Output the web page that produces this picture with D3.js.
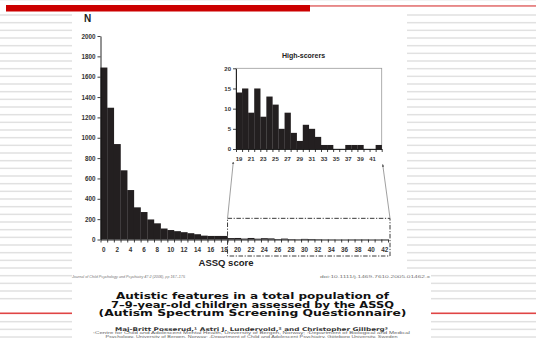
<!DOCTYPE html>
<html><head><meta charset="utf-8">
<script src="https://cdn.jsdelivr.net/npm/d3@7/dist/d3.min.js"></script>
<style>body{margin:0;background:#fff}svg{display:block}</style>
</head><body><svg id="c" width="536" height="338"></svg>
<script>
// ---- data ----
const lowScores  = [0,1,2,3,4,5,6,7,8,9,10,11,12,13,14,15,16,17,18];
const lowCounts  = [1690,1295,938,680,486,316,270,197,159,108,93,82,72,62,52,38,35,35,35];
const highScores = [19,20,21,22,23,24,25,26,27,28,29,30,31,32,33,34,35,36,37,38,39,40,41,42];
const highCounts = [14,15,9,15,8,13,11,5,9,4,2,6,5,3,1,1,0,0,1,1,1,0,0,1];
const mainYTicks = [0,200,400,600,800,1000,1200,1400,1600,1800,2000];
const mainXTicks = [0,2,4,6,8,10,12,14,16,18,20,22,24,26,28,30,32,34,36,38,40,42];
const insetYTicks = [0,5,10,15,20];
const insetXTicks = [19,21,23,25,27,29,31,33,35,37,39,41];
const titleLines = ["Autistic features in a total population of",
                    "7–9-year-old children assessed by the ASSQ",
                    "(Autism Spectrum Screening Questionnaire)"];

const allScores = lowScores.concat(highScores);
const allCounts = lowCounts.concat(highCounts);

const svg = d3.select("#c");
const W = 536, H = 338;

// ---- slide background ----
const stripes = d3.range(-2, 43).filter(k => k !== -1 && k !== 38 && k !== 39);
svg.selectAll("rect.stripe").data(stripes).join("rect")
  .attr("x", 0).attr("width", W)
  .attr("y", k => 15 + k * 7.667 - 0.75).attr("height", 1.5)
  .attr("fill", "#e1e1e1");
svg.append("rect").attr("x", 0).attr("y", 312.5).attr("width", W).attr("height", 1.6).attr("fill", "#e04545");
svg.append("rect").attr("x", 300).attr("y", 5.2).attr("width", 236).attr("height", 1.5).attr("fill", "#e26a6a");

// panels
svg.append("rect").attr("x", 72).attr("y", 11).attr("width", 335).attr("height", 260).attr("fill", "#fff");
svg.append("rect").attr("x", 72).attr("y", 271).attr("width", 359).attr("height", 67).attr("fill", "#fff");
svg.append("rect").attr("x", 6).attr("y", 5).attr("width", 304).attr("height", 6.5).attr("fill", "#cc0000");

const font = "'Liberation Sans', Arial, sans-serif";
const barColor = "#231f20";
const intFmt = d3.format("d");

// ---- main chart ----
const xMain = d3.scaleBand().domain(allScores).range([100.5, 388]).padding(0);
const xMainLin = d3.scaleLinear().domain([0, 43]).range([100.5, 388]);
const yMain = d3.scaleLinear().domain([0, 2000]).range([239.5, 36]);

const gMain = svg.append("g");
gMain.selectAll("rect.bar").data(allScores).join("rect")
  .attr("x", d => xMain(d)).attr("width", xMain.bandwidth() + 0.2)
  .attr("y", (d, i) => yMain(allCounts[i]))
  .attr("height", (d, i) => yMain(0) - yMain(allCounts[i]))
  .attr("fill", barColor);

const yAx = gMain.append("g").attr("transform", "translate(100.5,0)")
  .call(d3.axisLeft(yMain).tickValues(mainYTicks).tickFormat(intFmt).tickSize(3).tickSizeOuter(0).tickPadding(2));
const xTicks = gMain.append("g").attr("transform", "translate(0,239.5)")
  .call(d3.axisBottom(xMainLin).tickValues(d3.range(0, 44)).tickFormat("").tickSize(3).tickSizeOuter(0));
const xLab = gMain.append("g").attr("transform", "translate(0,239.5)")
  .call(d3.axisBottom(xMain).tickValues(mainXTicks).tickSize(0).tickPadding(8));
xLab.select(".domain").remove();

[yAx, xTicks, xLab].forEach(g => {
  g.selectAll(".domain").attr("stroke", "#111").attr("stroke-width", 0.9);
  g.selectAll(".tick line").attr("stroke", "#111").attr("stroke-width", 0.8);
  g.selectAll("text").attr("font-family", font).attr("font-weight", "bold")
    .attr("font-size", 6.3).attr("fill", "#333");
});

svg.append("text").attr("x", 84).attr("y", 21.5).text("N")
  .attr("font-family", font).attr("font-weight", "bold").attr("font-size", 10).attr("fill", "#222");
svg.append("text").attr("x", 226).attr("y", 266).attr("text-anchor", "middle").text("ASSQ score")
  .attr("font-family", font).attr("font-weight", "bold").attr("font-size", 9.5).attr("fill", "#222");

// ---- inset ----
const xIn = d3.scaleBand().domain(highScores).range([236, 381.7]).padding(0);
const xInLin = d3.scaleLinear().domain([19, 43]).range([236, 381.7]);
const yIn = d3.scaleLinear().domain([0, 20]).range([149, 68.3]);

const gIn = svg.append("g");
gIn.append("rect").attr("x", 236).attr("y", yIn(20)).attr("width", 381.7 - 236).attr("height", yIn(0) - yIn(20))
  .attr("fill", "none").attr("stroke", "#9a9a9a").attr("stroke-width", 0.8);
gIn.selectAll("rect.bar").data(highScores).join("rect")
  .attr("x", d => xIn(d)).attr("width", xIn.bandwidth() + 0.2)
  .attr("y", (d, i) => yIn(highCounts[i]))
  .attr("height", (d, i) => yIn(0) - yIn(highCounts[i]))
  .attr("fill", barColor);
const iy = gIn.append("g").attr("transform", "translate(236,0)")
  .call(d3.axisLeft(yIn).tickValues(insetYTicks).tickFormat(intFmt).tickSize(3).tickSizeOuter(0).tickPadding(2));
const ixt = gIn.append("g").attr("transform", "translate(0,149)")
  .call(d3.axisBottom(xInLin).tickValues(d3.range(19, 44)).tickFormat("").tickSize(3).tickSizeOuter(0));
const ixl = gIn.append("g").attr("transform", "translate(0,149)")
  .call(d3.axisBottom(xIn).tickValues(insetXTicks).tickSize(0).tickPadding(8));
ixl.select(".domain").remove();
[iy, ixt, ixl].forEach(g => {
  g.selectAll(".domain").attr("stroke", "#111").attr("stroke-width", 0.9);
  g.selectAll(".tick line").attr("stroke", "#111").attr("stroke-width", 0.8);
  g.selectAll("text").attr("font-family", font).attr("font-weight", "bold")
    .attr("font-size", 6).attr("fill", "#333");
});
svg.append("text").attr("x", 303.5).attr("y", 58).attr("text-anchor", "middle").text("High-scorers")
  .attr("font-family", font).attr("font-weight", "bold").attr("font-size", 7).attr("fill", "#222");

// ---- zoom box & connectors ----
const boxL = xMain(19), boxR = 390, boxT = yMain(208), boxB = 256;
svg.append("rect").attr("x", boxL).attr("y", boxT).attr("width", boxR - boxL).attr("height", boxB - boxT)
  .attr("fill", "none").attr("stroke", "#222").attr("stroke-width", 0.9).attr("stroke-dasharray", "4.5,1.6,1.2,1.6");

const defs = svg.append("defs");
defs.append("marker").attr("id", "arr").attr("viewBox", "0 0 6 6").attr("refX", 5).attr("refY", 3)
  .attr("markerWidth", 4).attr("markerHeight", 4).attr("orient", "auto")
  .append("path").attr("d", "M0,0 L6,3 L0,6 z").attr("fill", "#666");
svg.append("line").attr("x1", boxL).attr("y1", boxT).attr("x2", 233.3).attr("y2", 162)
  .attr("stroke", "#777").attr("stroke-width", 0.7).attr("marker-end", "url(#arr)");
svg.append("line").attr("x1", boxR).attr("y1", boxT).attr("x2", 382.7).attr("y2", 164.5)
  .attr("stroke", "#777").attr("stroke-width", 0.7).attr("marker-end", "url(#arr)");

// ---- article header ----
svg.append("text").attr("x", 72).attr("y", 277.6).text("Journal of Child Psychology and Psychiatry 47:2 (2006), pp 167–175")
  .attr("font-family", font).attr("font-style", "italic").attr("font-size", 3.8).attr("fill", "#777")
  .attr("textLength", 113).attr("lengthAdjust", "spacingAndGlyphs");
svg.append("text").attr("x", 320).attr("y", 277.6).text("doi:10.1111/j.1469-7610.2005.01462.x")
  .attr("font-family", font).attr("font-size", 3.8).attr("fill", "#777")
  .attr("textLength", 110).attr("lengthAdjust", "spacingAndGlyphs");

const tFont = "'DejaVu Sans', 'Open Sans', sans-serif";
const tWidths = [273, 283, 308];
svg.selectAll("text.title").data(titleLines).join("text").attr("class", "title")
  .attr("x", 252.5).attr("y", (d, i) => 298.8 + i * 8.8).attr("text-anchor", "middle")
  .text(d => d).attr("font-family", tFont).attr("font-weight", "bold").attr("font-size", 8.4).attr("fill", "#111")
  .attr("textLength", (d, i) => tWidths[i]).attr("lengthAdjust", "spacingAndGlyphs");

svg.append("text").attr("x", 251.5).attr("y", 330.5).attr("text-anchor", "middle")
  .text("Maj-Britt Posserud,¹ Astri J. Lundervold,² and Christopher Gillberg³")
  .attr("font-family", tFont).attr("font-weight", "bold").attr("font-size", 5).attr("fill", "#333")
  .attr("textLength", 273).attr("lengthAdjust", "spacingAndGlyphs");
svg.append("text").attr("x", 251.5).attr("y", 334.2).attr("text-anchor", "middle")
  .text("¹Centre for Child and Adolescent Mental Health, University of Bergen, Norway; ²Department of Biological and Medical")
  .attr("font-family", font).attr("font-size", 3.3).attr("fill", "#666")
  .attr("textLength", 317).attr("lengthAdjust", "spacingAndGlyphs");
svg.append("text").attr("x", 251.5).attr("y", 338).attr("text-anchor", "middle")
  .text("Psychology, University of Bergen, Norway; ³Department of Child and Adolescent Psychiatry, Göteborg University, Sweden")
  .attr("font-family", font).attr("font-size", 3.3).attr("fill", "#666")
  .attr("textLength", 292).attr("lengthAdjust", "spacingAndGlyphs");
</script></body></html>
